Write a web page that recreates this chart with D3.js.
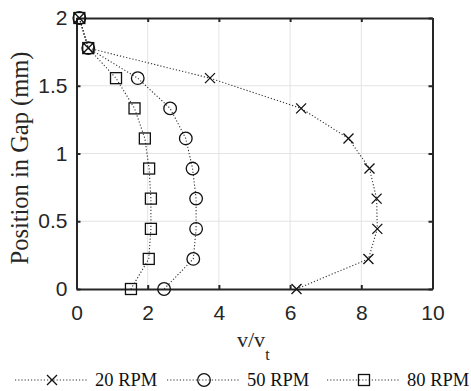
<!DOCTYPE html>
<html>
<head>
<meta charset="utf-8">
<script src="https://cdn.jsdelivr.net/npm/d3@7"></script>
<style>
	body { margin: 0; background: #fff; }
	svg { display: block; }
</style>
</head>
<body>
<div id="wrapper"></div>
<script>
// positions across the gap (mm)
const positions = [2, 1.778, 1.556, 1.333, 1.111, 0.889, 0.667, 0.444, 0.222, 0];
const rpm20 = [0.08, 0.33, 3.75, 6.31, 7.64, 8.23, 8.43, 8.45, 8.2, 6.18];
const rpm50 = [0.08, 0.33, 1.72, 2.63, 3.07, 3.26, 3.36, 3.36, 3.28, 2.46];
const rpm80 = [0.08, 0.33, 1.11, 1.63, 1.92, 2.04, 2.09, 2.09, 2.03, 1.53];
const seriesNames = ['20 RPM', '50 RPM', '80 RPM'];
const markerTypes = ['cross', 'circle', 'square'];
const xTicks = [0, 2, 4, 6, 8, 10];
const yTicks = [0, 0.5, 1, 1.5, 2];

(() => {
	const width = 471, height = 391;
	const margin = { left: 76.5, right: 38.5, top: 18, bottom: 102 };
	const svg = d3.select('#wrapper').append('svg')
		.attr('width', width)
		.attr('height', height);

	const x = d3.scaleLinear().domain([0, 10]).range([margin.left, width - margin.right]);
	const y = d3.scaleLinear().domain([0, 2]).range([height - margin.bottom, margin.top]);

	const series = [rpm20, rpm50, rpm80].map((vals, i) => ({
		name: seriesNames[i],
		marker: markerTypes[i],
		points: vals.map((v, j) => ({ v: v, p: positions[j] }))
	}));

	const tickFont = '"Liberation Sans", Arial, sans-serif';
	const serif = '"Liberation Serif", "Times New Roman", serif';

	// grid
	svg.append('g')
		.selectAll('line')
		.data(xTicks.slice(1, -1))
		.enter().append('line')
		.attr('x1', (d) => x(d)).attr('x2', (d) => x(d))
		.attr('y1', y(0)).attr('y2', y(2))
		.attr('stroke', '#e3e3e3').attr('stroke-width', 1);
	svg.append('g')
		.selectAll('line')
		.data(yTicks.slice(1, -1))
		.enter().append('line')
		.attr('x1', x(0)).attr('x2', x(10))
		.attr('y1', (d) => y(d)).attr('y2', (d) => y(d))
		.attr('stroke', '#e3e3e3').attr('stroke-width', 1);

	// axes (ticks inside, box)
	const axisStyle = (g) => {
		g.select('.domain').attr('stroke', '#262626').attr('stroke-width', 2);
		g.selectAll('.tick line').attr('stroke', '#262626').attr('stroke-width', 2);
		g.selectAll('.tick text')
			.attr('fill', '#262626')
			.style('font-family', tickFont)
			.style('font-size', '21px');
	};

	svg.append('g')
		.attr('transform', `translate(0,${y(0)})`)
		.call(d3.axisBottom(x).tickValues(xTicks).tickSizeInner(-4).tickSizeOuter(0).tickPadding(16))
		.call(axisStyle);
	svg.append('g')
		.attr('transform', `translate(0,${y(2)})`)
		.call(d3.axisTop(x).tickValues(xTicks).tickSizeInner(-4).tickSizeOuter(0).tickFormat(''))
		.call(axisStyle);
	svg.append('g')
		.attr('transform', `translate(${x(0)},0)`)
		.call(d3.axisLeft(y).tickValues(yTicks).tickFormat((d) => d).tickSizeInner(-4).tickSizeOuter(0).tickPadding(9))
		.call(axisStyle);
	svg.append('g')
		.attr('transform', `translate(${x(10)},0)`)
		.call(d3.axisRight(y).tickValues(yTicks).tickSizeInner(-4).tickSizeOuter(0).tickFormat(''))
		.call(axisStyle);

	// lines
	const line = d3.line().x((d) => x(d.v)).y((d) => y(d.p));
	svg.append('g')
		.selectAll('path')
		.data(series)
		.enter().append('path')
		.attr('d', (d) => line(d.points))
		.attr('fill', 'none')
		.attr('stroke', '#333')
		.attr('stroke-width', 1.1)
		.attr('stroke-dasharray', '1.2,2');

	// markers
	const drawMarker = (sel, type) => {
		if (type === 'circle') {
			sel.append('circle').attr('r', 6.3);
		} else if (type === 'square') {
			sel.append('rect').attr('x', -5.5).attr('y', -5.5).attr('width', 11).attr('height', 11);
		} else {
			sel.append('path').attr('d', 'M-5,-5L5,5M-5,5L5,-5');
		}
		sel.selectAll('*')
			.attr('fill', 'none')
			.attr('stroke', '#111')
			.attr('stroke-width', 1.3);
	};

	series.forEach((s) => {
		svg.append('g')
			.selectAll('g')
			.data(s.points)
			.enter().append('g')
			.attr('transform', (d) => `translate(${x(d.v)},${y(d.p)})`)
			.each(function() { drawMarker(d3.select(this), s.marker); });
	});

	// axis labels
	const xl = svg.append('text')
		.attr('x', 237)
		.attr('y', 347)
		.style('font-family', serif)
		.style('font-size', '22px')
		.attr('fill', '#262626');
	xl.append('tspan').text('v/v');
	xl.append('tspan').attr('dy', 13).style('font-size', '16px').text('t');

	svg.append('text')
		.attr('transform', `translate(28,158) rotate(-90)`)
		.attr('text-anchor', 'middle')
		.style('font-family', serif)
		.style('font-size', '24.5px')
		.attr('fill', '#262626')
		.text('Position in Gap (mm)');

	// legend
	const legendX = [15, 167, 327];
	const legendY = 380;
	const leg = svg.append('g')
		.selectAll('g')
		.data(series)
		.enter().append('g')
		.attr('transform', (d, i) => `translate(${legendX[i]},${legendY})`);
	leg.append('line')
		.attr('x1', 0).attr('x2', 73)
		.attr('stroke', '#333')
		.attr('stroke-width', 1.1)
		.attr('stroke-dasharray', '1.2,2');
	leg.append('g')
		.attr('transform', 'translate(37,0)')
		.each(function(d) { drawMarker(d3.select(this), d.marker); });
	leg.append('text')
		.attr('x', 80)
		.attr('y', 6)
		.style('font-family', serif)
		.style('font-size', '18.5px')
		.attr('fill', '#111')
		.text((d) => d.name);
})();
</script>
</body>
</html>
